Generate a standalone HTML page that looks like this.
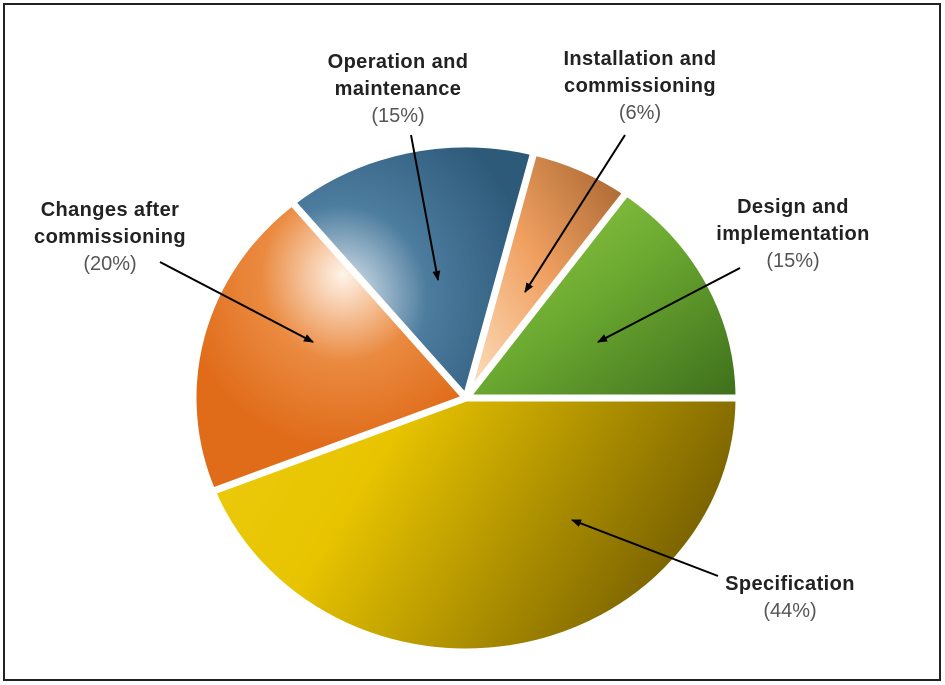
<!DOCTYPE html>
<html><head><meta charset="utf-8"><style>
body{margin:0;background:#fff;}
svg{display:block;font-family:"Liberation Sans",Arial,sans-serif;}
</style></head><body>
<svg width="945" height="685" viewBox="0 0 945 685">
<defs>
<linearGradient id="g0" x1="0" y1="0" x2="1" y2="1"><stop offset="0" stop-color="#9ad048"/><stop offset="0.5" stop-color="#6aa830"/><stop offset="1" stop-color="#3e6e1c"/></linearGradient>
<linearGradient id="g1" x1="0" y1="1" x2="1" y2="0"><stop offset="0" stop-color="#fde3c4"/><stop offset="0.5" stop-color="#f0a060"/><stop offset="1" stop-color="#a0602c"/></linearGradient>
<radialGradient id="g2" cx="0.2" cy="0.6" r="0.8"><stop offset="0" stop-color="#e8eef4"/><stop offset="0.45" stop-color="#4c7c9e"/><stop offset="1" stop-color="#2e5a7a"/></radialGradient>
<radialGradient id="g3" cx="0.55" cy="0.25" r="0.6"><stop offset="0" stop-color="#fff4ea"/><stop offset="0.5" stop-color="#ea8a40"/><stop offset="1" stop-color="#e06c1a"/></radialGradient>
<linearGradient id="g4" x1="0" y1="0" x2="1" y2="0.3"><stop offset="0" stop-color="#eccc10"/><stop offset="0.35" stop-color="#e8c400"/><stop offset="1" stop-color="#7a6200"/></linearGradient>
<marker id="ah" markerWidth="10" markerHeight="10" refX="9" refY="5" orient="auto" markerUnits="userSpaceOnUse"><path d="M0,1 L10,5 L0,9 z" fill="#000"/></marker>
</defs>
<rect x="4" y="4" width="936" height="676" fill="#fff" stroke="#222" stroke-width="2"/>
<g id="slices"></g>
<g id="labels" font-size="20"></g>
<script>
const categories=["Design and implementation","Installation and commissioning","Operation and maintenance","Changes after commissioning","Specification"];
const values=[15,6,15,20,44];
const valueLabels=["(15%)","(6%)","(15%)","(20%)","(44%)"];
const cx=466,cy=398,rx=273,ry=254;
const ns="http://www.w3.org/2000/svg";
const gs=document.getElementById('slices');
const total=values.reduce((a,b)=>a+b,0);
function pt(a){return [cx+rx*Math.cos(a),cy-ry*Math.sin(a)];}
let acc=0;
values.forEach((v,i)=>{
  const a0=acc/total*2*Math.PI, a1=(acc+v)/total*2*Math.PI; acc+=v;
  const p0=pt(a0),p1=pt(a1);
  const large=(a1-a0)>Math.PI?1:0;
  const p=document.createElementNS(ns,'path');
  p.setAttribute('d',`M${cx},${cy} L${p0[0]},${p0[1]} A${rx},${ry} 0 ${large} 0 ${p1[0]},${p1[1]} Z`);
  p.setAttribute('fill',`url(#g${i})`);
  p.setAttribute('stroke','#fff');p.setAttribute('stroke-width','7');p.setAttribute('stroke-linejoin','round');
  
  
  gs.appendChild(p);
});
const lab=document.getElementById('labels');
const L=[
 {x:793,lines:["Design and","implementation"],y:206,arrow:[740,268,598,342]},
 {x:640,lines:["Installation and","commissioning"],y:58,arrow:[625,135,525,292]},
 {x:398,lines:["Operation and","maintenance"],y:61,arrow:[411,135,438,280]},
 {x:110,lines:["Changes after","commissioning"],y:209,arrow:[160,262,313,342]},
 {x:790,lines:["Specification"],y:583,arrow:[718,576,572,520]}
];
L.forEach((l,i)=>{
  l.lines.forEach((s,j)=>{
    const t=document.createElementNS(ns,'text');
    t.setAttribute('x',l.x);t.setAttribute('y',l.y+j*27+7);
    t.setAttribute('text-anchor','middle');t.setAttribute('font-weight','bold');t.setAttribute('fill','#222');
    t.setAttribute('letter-spacing','0.4');
    t.textContent=s;
    
    
    lab.appendChild(t);
  });
  const t=document.createElementNS(ns,'text');
  t.setAttribute('x',l.x);t.setAttribute('y',l.y+l.lines.length*27+7);
  t.setAttribute('text-anchor','middle');t.setAttribute('fill','#555');
  t.textContent=valueLabels[i];
  
  
  lab.appendChild(t);
  const a=document.createElementNS(ns,'line');
  a.setAttribute('x1',l.arrow[0]);a.setAttribute('y1',l.arrow[1]);a.setAttribute('x2',l.arrow[2]);a.setAttribute('y2',l.arrow[3]);
  a.setAttribute('stroke','#000');a.setAttribute('stroke-width','2');a.setAttribute('marker-end','url(#ah)');
  
  
  lab.appendChild(a);
});
</script>
</svg>
</body></html>
